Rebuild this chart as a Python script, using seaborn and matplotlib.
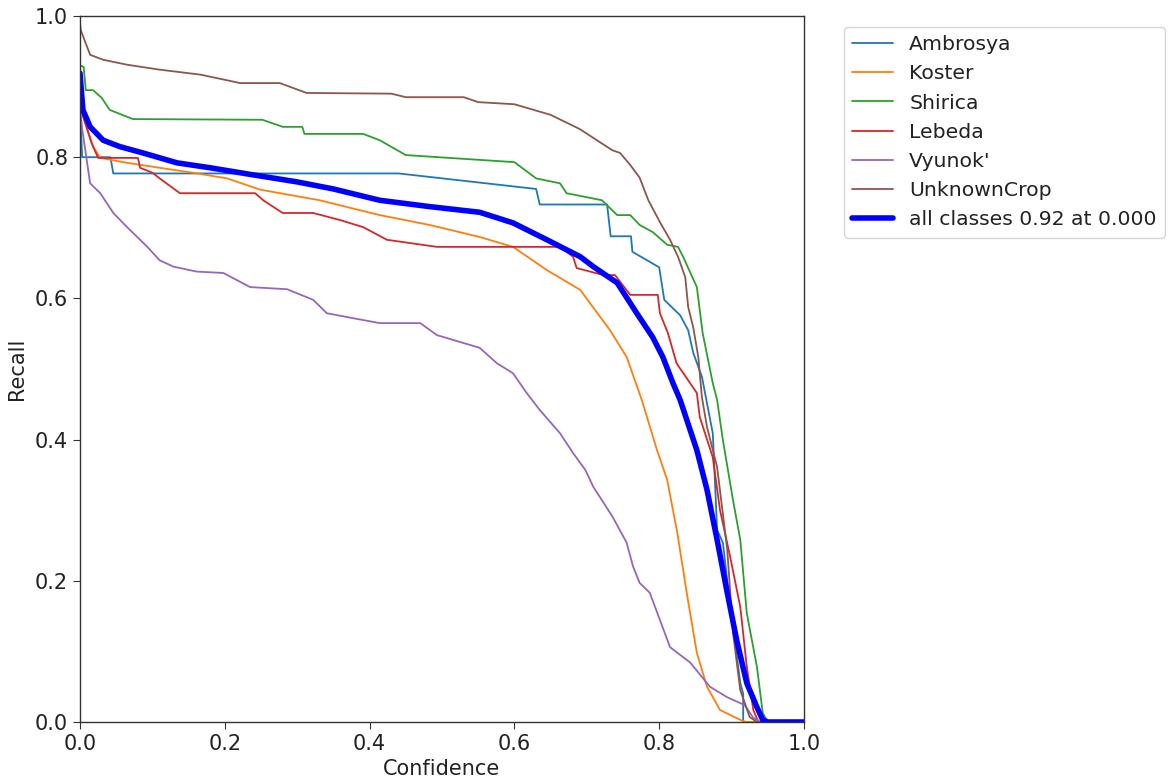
import matplotlib
matplotlib.use("Agg")
import matplotlib.pyplot as plt
import seaborn as sns

# recall-confidence curves
ambrosya_x = [0, 0.003, 0.042, 0.046, 0.44, 0.63, 0.635, 0.728, 0.733, 0.761, 0.763, 0.80, 0.807,
              0.829, 0.840, 0.847, 0.859, 0.874, 0.880, 0.888, 0.895, 0.912, 0.916, 0.916, 1.0]
ambrosya_y = [0.87, 0.80, 0.80, 0.777, 0.777, 0.755, 0.733, 0.733, 0.688, 0.688, 0.666, 0.644, 0.598,
              0.576, 0.555, 0.523, 0.489, 0.409, 0.272, 0.254, 0.191, 0.055, 0.04, 0.0, 0.0]

koster_x = [0, 0.003, 0.018, 0.028, 0.065, 0.11, 0.156, 0.203, 0.249, 0.331, 0.414, 0.483, 0.552, 0.598,
            0.645, 0.691, 0.732, 0.755, 0.776, 0.797, 0.811, 0.825, 0.838, 0.852, 0.866, 0.884, 0.912,
            0.92, 1.0]
koster_y = [0.88, 0.862, 0.815, 0.799, 0.792, 0.785, 0.778, 0.770, 0.754, 0.739, 0.718, 0.704, 0.687, 0.673,
            0.640, 0.612, 0.555, 0.517, 0.456, 0.385, 0.343, 0.268, 0.183, 0.098, 0.050, 0.017, 0.003,
            0, 0]

shirica_x = [0, 0.005, 0.008, 0.018, 0.03, 0.041, 0.073, 0.252, 0.28, 0.307, 0.31, 0.391, 0.414, 0.45,
             0.60, 0.63, 0.663, 0.672, 0.721, 0.742, 0.760, 0.773, 0.791, 0.811, 0.826, 0.833, 0.852,
             0.860, 0.874, 0.880, 0.888, 0.902, 0.912, 0.921, 0.935, 0.943, 0.95, 1.0]
shirica_y = [0.93, 0.928, 0.895, 0.895, 0.884, 0.867, 0.854, 0.853, 0.843, 0.843, 0.833, 0.833, 0.824,
             0.803, 0.793, 0.77, 0.763, 0.749, 0.739, 0.718, 0.718, 0.704, 0.694, 0.676, 0.673, 0.659,
             0.616, 0.551, 0.480, 0.456, 0.399, 0.314, 0.258, 0.154, 0.078, 0.013, 0, 0]

lebeda_x = [0, 0.003, 0.016, 0.025, 0.08, 0.083, 0.1, 0.11, 0.138, 0.242, 0.253, 0.28, 0.322, 0.359, 0.391,
            0.424, 0.493, 0.663, 0.681, 0.686, 0.723, 0.739, 0.760, 0.798, 0.801, 0.812, 0.824, 0.852,
            0.856, 0.874, 0.884, 0.898, 0.912, 0.921, 0.930, 0.937, 1.0]
lebeda_y = [0.87, 0.862, 0.82, 0.799, 0.799, 0.785, 0.778, 0.77, 0.749, 0.749, 0.739, 0.721, 0.721, 0.711,
            0.701, 0.683, 0.673, 0.673, 0.659, 0.643, 0.633, 0.633, 0.605, 0.605, 0.579, 0.551, 0.508,
            0.466, 0.432, 0.375, 0.300, 0.234, 0.163, 0.078, 0.017, 0, 0]

vyunok_x = [0, 0.003, 0.014, 0.028, 0.046, 0.065, 0.093, 0.11, 0.129, 0.161, 0.198, 0.235, 0.286, 0.322,
            0.341, 0.377, 0.414, 0.470, 0.493, 0.552, 0.576, 0.598, 0.617, 0.635, 0.663, 0.681, 0.698,
            0.709, 0.721, 0.736, 0.755, 0.764, 0.773, 0.787, 0.815, 0.843, 0.870, 0.894, 0.918, 0.93,
            0.94, 1.0]
vyunok_y = [0.87, 0.84, 0.763, 0.749, 0.721, 0.701, 0.673, 0.654, 0.645, 0.638, 0.636, 0.616, 0.613, 0.598,
            0.579, 0.572, 0.565, 0.565, 0.548, 0.530, 0.508, 0.494, 0.466, 0.442, 0.409, 0.381, 0.357,
            0.333, 0.314, 0.290, 0.254, 0.220, 0.197, 0.183, 0.106, 0.084, 0.050, 0.035, 0.024, 0.006,
            0, 0]

unknown_x = [0, 0.001, 0.014, 0.032, 0.065, 0.11, 0.166, 0.203, 0.221, 0.276, 0.313, 0.43, 0.45, 0.53, 0.55,
             0.60, 0.65, 0.69, 0.72, 0.735, 0.746, 0.760, 0.773, 0.785, 0.801, 0.815, 0.826, 0.836, 0.840,
             0.847, 0.854, 0.859, 0.866, 0.880, 0.894, 0.902, 0.912, 0.925, 0.935, 1.0]
unknown_y = [0.99, 0.98, 0.945, 0.938, 0.931, 0.924, 0.917, 0.909, 0.905, 0.905, 0.891, 0.89, 0.885, 0.885,
             0.878, 0.875, 0.86, 0.84, 0.82, 0.810, 0.806, 0.789, 0.771, 0.739, 0.708, 0.683, 0.659, 0.630,
             0.588, 0.559, 0.517, 0.460, 0.418, 0.361, 0.244, 0.126, 0.045, 0.007, 0, 0]

all_x = [0, 0.004, 0.014, 0.032, 0.055, 0.087, 0.134, 0.180, 0.239, 0.30, 0.35, 0.414, 0.483, 0.552, 0.598,
         0.645, 0.691, 0.709, 0.742, 0.769, 0.791, 0.805, 0.819, 0.829, 0.852, 0.866, 0.880, 0.894, 0.907,
         0.921, 0.935, 0.943, 0.95, 1.0]
all_y = [0.919, 0.867, 0.843, 0.824, 0.815, 0.806, 0.792, 0.785, 0.775, 0.765, 0.755, 0.739, 0.730, 0.722,
         0.707, 0.683, 0.659, 0.645, 0.622, 0.579, 0.545, 0.517, 0.480, 0.456, 0.385, 0.329, 0.258, 0.183,
         0.116, 0.055, 0.021, 0.003, 0, 0]

class_names = ["Ambrosya", "Koster", "Shirica", "Lebeda", "Vyunok'", "UnknownCrop"]
class_curves = [(ambrosya_x, ambrosya_y), (koster_x, koster_y), (shirica_x, shirica_y),
                (lebeda_x, lebeda_y), (vyunok_x, vyunok_y), (unknown_x, unknown_y)]
all_label = "all classes 0.92 at 0.000"

sns.set_style("ticks")
plt.rcParams["font.family"] = ["DejaVu Sans"]
plt.rcParams["font.size"] = 15
plt.rcParams["text.color"] = "#222222"

fig = plt.figure(figsize=(11.68, 7.83), dpi=100)
ax = fig.add_axes([80 / 1168, 1 - 722 / 783, 724 / 1168, 706 / 783])

palette = sns.color_palette("tab10", len(class_names))
for name, (cx, cy), col in zip(class_names, class_curves, palette):
    sns.lineplot(x=cx, y=cy, ax=ax, color=col, linewidth=1.3, label=name,
                 estimator=None, sort=False)
sns.lineplot(x=all_x, y=all_y, ax=ax, color="blue", linewidth=4, label=all_label,
             estimator=None, sort=False)

ax.set_xlim(0, 1)
ax.set_ylim(0, 1)
ax.set_xlabel("Confidence", fontsize=15, labelpad=4, color="#222222")
ax.set_ylabel("Recall", fontsize=15, labelpad=6, color="#222222")
ax.tick_params(labelsize=15, length=5, color="#333333", labelcolor="#222222")
for s in ax.spines.values():
    s.set_color("#333333")
    s.set_linewidth(1)

ax.legend(loc="upper left", bbox_to_anchor=(844 / 1168, 1 - 27 / 783), bbox_transform=fig.transFigure,
          borderaxespad=0, fontsize=14.7, frameon=True, edgecolor="#cccccc")

fig.savefig("out.png", dpi=100)
